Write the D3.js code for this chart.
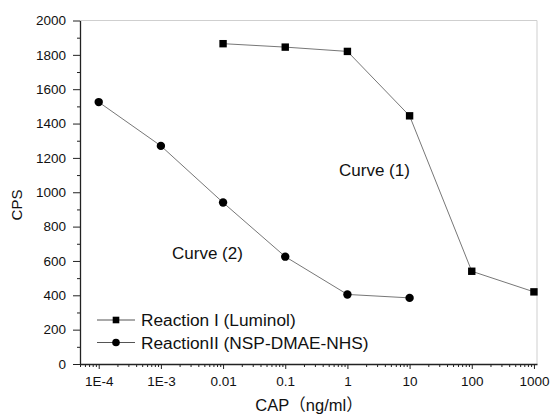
<!DOCTYPE html>
<html>
<head>
<meta charset="utf-8">
<script src="https://cdn.jsdelivr.net/npm/d3@7"></script>
<style>
  body { margin: 0; background: #fff; }
  text { font-family: Arial, "Liberation Sans", sans-serif; fill: #111; }
</style>
</head>
<body>
<div id="chart"></div>
<script>
// data
var concentrations = [1e-4, 1e-3, 0.01, 0.1, 1, 10, 100, 1000];
var tickLabels = ["1E-4", "1E-3", "0.01", "0.1", "1", "10", "100", "1000"];

var luminolX = [0.01, 0.1, 1, 10, 100, 1000];
var luminolCPS = [1865, 1845, 1820, 1445, 540, 420];

var dmaeX = [1e-4, 1e-3, 0.01, 0.1, 1, 10];
var dmaeCPS = [1525, 1270, 940, 625, 405, 385];

var yTicks = [0, 200, 400, 600, 800, 1000, 1200, 1400, 1600, 1800, 2000];

var svgWidth = 551;
var svgHeight = 414;

var svg = d3.select("#chart")
  .append("svg")
  .attr("width", svgWidth)
  .attr("height", svgHeight);

// scales
var xScale = d3.scaleLog()
  .domain([5e-5, 1120])
  .range([80, 537]);

var yScale = d3.scaleLinear()
  .domain([0, 2000])
  .range([364, 20.5]);

// frame (top + right)
svg.append("path")
  .attr("d", `M80,20.5H537V364`)
  .attr("fill", "none")
  .attr("stroke", "#cfcfcf")
  .attr("stroke-width", 1);

// minor x ticks
var minorX = [];
for (var e = -5; e <= 3; e++) {
  for (var m = 2; m <= 9; m++) {
    var v = m * Math.pow(10, e);
    if (v >= 5e-5 && v <= 1120) minorX.push(v);
  }
}

svg.append("g")
  .attr("transform", "translate(0,364)")
  .call(d3.axisBottom(xScale).tickValues(minorX).tickSize(3).tickFormat(""))
  .call(g => g.select(".domain").remove())
  .selectAll("line").attr("stroke", "#222");

var xAxis = svg.append("g")
  .attr("transform", "translate(0,364)")
  .call(d3.axisBottom(xScale)
    .tickValues(concentrations)
    .tickSize(5)
    .tickSizeOuter(0)
    .tickFormat((d, i) => tickLabels[i]));

xAxis.select(".domain").attr("stroke", "#222").attr("stroke-width", 1.3);
xAxis.selectAll("line").attr("stroke", "#222");
xAxis.selectAll("text")
  .attr("font-size", 13.5)
  .attr("dy", "1.05em")
  .attr("fill", "#111");

// y axis
var minorY = d3.range(100, 2000, 200);
svg.append("g")
  .attr("transform", "translate(80,0)")
  .call(d3.axisLeft(yScale).tickValues(minorY).tickSize(3).tickFormat(""))
  .call(g => g.select(".domain").remove())
  .selectAll("line").attr("stroke", "#222");

var yAxis = svg.append("g")
  .attr("transform", "translate(80,0)")
  .call(d3.axisLeft(yScale)
    .tickValues(yTicks)
    .tickSize(7)
    .tickSizeOuter(0)
    .tickPadding(7)
    .tickFormat(d3.format("d")));

yAxis.select(".domain").attr("stroke", "#222").attr("stroke-width", 1.3);
yAxis.selectAll("line").attr("stroke", "#222");
yAxis.selectAll("text").attr("font-size", 13.5).attr("fill", "#111");

// lines
var lineGen = d3.line()
  .x(d => xScale(d[0]))
  .y(d => yScale(d[1]));

var luminolData = d3.zip(luminolX, luminolCPS);
var dmaeData = d3.zip(dmaeX, dmaeCPS);

svg.append("path")
  .datum(luminolData)
  .attr("d", lineGen)
  .attr("fill", "none")
  .attr("stroke", "#777")
  .attr("stroke-width", 1);

svg.append("path")
  .datum(dmaeData)
  .attr("d", lineGen)
  .attr("fill", "none")
  .attr("stroke", "#777")
  .attr("stroke-width", 1);

// markers
svg.append("g")
  .selectAll("rect")
  .data(luminolData)
  .enter()
  .append("rect")
  .attr("x", d => xScale(d[0]) - 3.7)
  .attr("y", d => yScale(d[1]) - 3.7)
  .attr("width", 7.4)
  .attr("height", 7.4)
  .attr("fill", "#000");

svg.append("g")
  .selectAll("circle")
  .data(dmaeData)
  .enter()
  .append("circle")
  .attr("cx", d => xScale(d[0]))
  .attr("cy", d => yScale(d[1]))
  .attr("r", 4.2)
  .attr("fill", "#000");

// curve labels
svg.append("text")
  .attr("x", 339)
  .attr("y", 176)
  .attr("font-size", 17)
  .text("Curve (1)");

svg.append("text")
  .attr("x", 172)
  .attr("y", 259)
  .attr("font-size", 17)
  .text("Curve (2)");

// legend
var legend = svg.append("g");
var legendItems = [
  { label: "Reaction I (Luminol)", shape: "square", y: 320 },
  { label: "ReactionII (NSP-DMAE-NHS)", shape: "circle", y: 342.5 }
];

legendItems.forEach(function(item) {
  legend.append("line")
    .attr("x1", 97).attr("x2", 135)
    .attr("y1", item.y).attr("y2", item.y)
    .attr("stroke", "#555").attr("stroke-width", 1);
  if (item.shape === "square") {
    legend.append("rect")
      .attr("x", 116 - 3.3).attr("y", item.y - 3.3)
      .attr("width", 6.6).attr("height", 6.6)
      .attr("fill", "#000");
  } else {
    legend.append("circle")
      .attr("cx", 116).attr("cy", item.y)
      .attr("r", 3.8).attr("fill", "#000");
  }
  legend.append("text")
    .attr("x", 141)
    .attr("y", item.y)
    .attr("dy", "0.36em")
    .attr("font-size", 17.3)
    .text(item.label);
});

// axis titles
svg.append("text")
  .attr("transform", "translate(22,205) rotate(-90)")
  .attr("text-anchor", "middle")
  .attr("font-size", 15)
  .text("CPS");

svg.append("text")
  .attr("x", 309)
  .attr("y", 411)
  .attr("text-anchor", "middle")
  .attr("font-size", 16.5)
  .style("font-family", "Arial, 'Liberation Sans', 'Noto Sans CJK SC', sans-serif")
  .text("CAP（ng/ml）");
</script>
</body>
</html>
